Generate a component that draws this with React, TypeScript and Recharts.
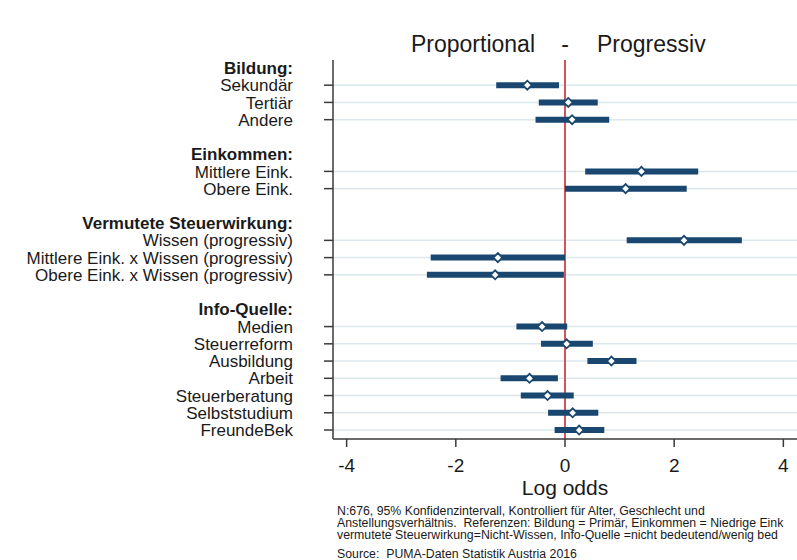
import React from 'react';
import { ComposedChart, Scatter, ErrorBar, XAxis, YAxis, ReferenceLine } from 'recharts';

const groupTitles = ['Bildung:', 'Einkommen:', 'Vermutete Steuerwirkung:', 'Info-Quelle:'];

const itemLabels = [
  'Sekundär',
  'Tertiär',
  'Andere',
  'Mittlere Eink.',
  'Obere Eink.',
  'Wissen (progressiv)',
  'Mittlere Eink. x Wissen (progressiv)',
  'Obere Eink. x Wissen (progressiv)',
  'Medien',
  'Steuerreform',
  'Ausbildung',
  'Arbeit',
  'Steuerberatung',
  'Selbststudium',
  'FreundeBek',
];
const itemGroup = [0, 0, 0, 1, 1, 2, 2, 2, 3, 3, 3, 3, 3, 3, 3];
const estimates = [-0.69, 0.06, 0.13, 1.4, 1.11, 2.18, -1.23, -1.28, -0.42, 0.03, 0.85, -0.65, -0.32, 0.14, 0.26];
const lowerCI = [-1.26, -0.48, -0.54, 0.37, 0.0, 1.13, -2.46, -2.53, -0.89, -0.44, 0.41, -1.18, -0.81, -0.31, -0.19];
const upperCI = [-0.11, 0.6, 0.81, 2.44, 2.23, 3.24, 0.0, -0.02, 0.04, 0.51, 1.31, -0.13, 0.16, 0.61, 0.72];
const xTicks = [-4, -2, 0, 2, 4];

// footnote as far as it is visible in the original (it runs off the right edge)
const footnote = [
  'N:676, 95% Konfidenzintervall, Kontrolliert für Alter, Geschlecht und',
  'Anstellungsverhältnis.  Referenzen: Bildung = Primär, Einkommen = Niedrige Eink',
  'vermutete Steuerwirkung=Nicht-Wissen, Info-Quelle =nicht bedeutend/wenig bed',
];
const source = 'Source:  PUMA-Daten Statistik Austria 2016';

const NAVY = '#1a476f';
const GRID = '#dbe7ec';
const AXIS = '#3a3a3a';
const FONT = '"Liberation Sans", Arial, sans-serif';

// one row per label line: spacer between groups, group header, then its items
type Row = { label: string; header: boolean; item: number | null };
const rows: Row[] = [];
groupTitles.forEach((title, g) => {
  if (g > 0) rows.push({ label: '', header: false, item: null });
  rows.push({ label: title, header: true, item: null });
  itemGroup.forEach((ig, i) => {
    if (ig === g) rows.push({ label: itemLabels[i], header: false, item: i });
  });
});

const points = rows.flatMap((r, idx) =>
  r.item === null
    ? []
    : [
        {
          row: idx,
          est: estimates[r.item],
          ci: [estimates[r.item] - lowerCI[r.item], upperCI[r.item] - estimates[r.item]],
        },
      ]
);

const yTicks = rows.map((_, i) => i).filter((i) => rows[i].label !== '');

function RowTick(props: any) {
  const { x, y, payload } = props;
  const row = rows[payload.value];
  if (!row) return null;
  return (
    <g>
      {!row.header && <line x1={x + 31} x2={x + 40} y1={y} y2={y} stroke={AXIS} strokeWidth={1.5} />}
      <text
        x={x}
        y={y}
        dy="0.36em"
        textAnchor="end"
        fontSize={17}
        fontWeight={row.header ? 'bold' : 'normal'}
        fill="#1a1a1a"
        fontFamily={FONT}
      >
        {row.label}
      </text>
    </g>
  );
}

function Diamond(props: any) {
  const { cx, cy } = props;
  const r = 4.5;
  return (
    <polygon
      points={`${cx - r},${cy} ${cx},${cy - r} ${cx + r},${cy} ${cx},${cy + r}`}
      fill="#ffffff"
      stroke={NAVY}
      strokeWidth={1.8}
    />
  );
}

export default function App() {
  return (
    <div style={{ position: 'absolute', left: 0, top: 0, width: 797, height: 560, overflow: 'hidden', background: '#fff' }}>
      <ComposedChart width={797} height={560} data={points} margin={{ top: 60, right: 0, bottom: 0, left: 0 }}>
        <XAxis
          dataKey="est"
          type="number"
          domain={[-4.25, 4.25]}
          ticks={xTicks}
          allowDataOverflow
          height={121}
          tickSize={8}
          tickMargin={12}
          axisLine={{ stroke: AXIS, strokeWidth: 1.5 }}
          tickLine={{ stroke: AXIS, strokeWidth: 1.5 }}
          tick={{ fill: '#1a1a1a', fontSize: 19, fontFamily: FONT }}
          label={{ value: 'Log odds', position: 'insideTop', offset: 41, fontSize: 21, fill: '#1a1a1a', fontFamily: FONT }}
        />
        <YAxis
          dataKey="row"
          type="number"
          domain={[-0.46, 21.52]}
          reversed
          ticks={yTicks}
          interval={0}
          width={333}
          tickSize={8}
          tickMargin={32}
          tickLine={false}
          axisLine={{ stroke: AXIS, strokeWidth: 1.5 }}
          tick={<RowTick />}
        />
        {points.map((p) => (
          <ReferenceLine key={p.row} y={p.row} stroke={GRID} strokeWidth={1.5} />
        ))}
        <ReferenceLine x={0} stroke="#d4545e" strokeWidth={2} />
        <Scatter dataKey="est" shape={<Diamond />} isAnimationActive={false}>
          <ErrorBar dataKey="ci" direction="x" width={0} stroke={NAVY} strokeWidth={6} isAnimationActive={false} />
        </Scatter>
      </ComposedChart>
      <svg
        width={797}
        height={560}
        style={{ position: 'absolute', left: 0, top: 0, pointerEvents: 'none' }}
        fontFamily={FONT}
        fill="#1a1a1a"
      >
        <text x={535} y={52} fontSize={23} textAnchor="end">Proportional</text>
        <text x={565} y={52} fontSize={23} textAnchor="middle">-</text>
        <text x={597} y={52} fontSize={23}>Progressiv</text>
        {footnote.map((line, i) => (
          <text key={i} x={337} y={515 + i * 11.8} fontSize={12.3} style={{ whiteSpace: 'pre' }}>
            {line}
          </text>
        ))}
        <text x={337} y={558} fontSize={12.3} style={{ whiteSpace: 'pre' }}>{source}</text>
      </svg>
    </div>
  );
}
